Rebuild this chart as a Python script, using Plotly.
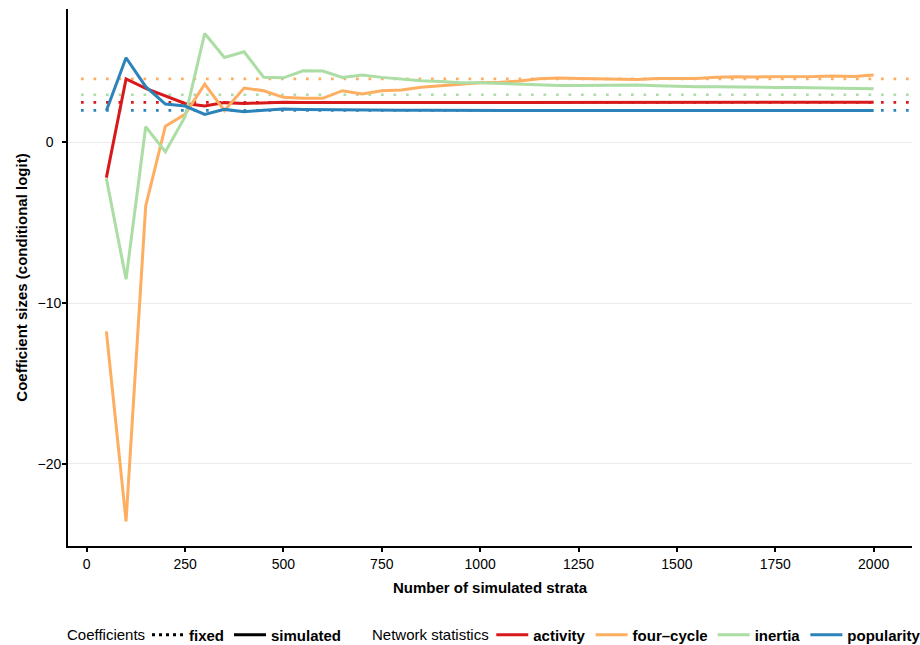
import plotly.graph_objects as go

# ---------------- data ----------------
strata = list(range(50, 2001, 50))

activity = [-2.20, 3.93, 3.35, 2.87, 2.41, 2.25, 2.46, 2.41, 2.45, 2.48,
            2.47, 2.47, 2.46, 2.47, 2.47, 2.47, 2.46, 2.46, 2.47, 2.47,
            2.47, 2.47, 2.47, 2.47, 2.47, 2.48, 2.48, 2.48, 2.48, 2.48,
            2.48, 2.48, 2.48, 2.48, 2.48, 2.48, 2.48, 2.48, 2.48, 2.48]

four_cycle = [-11.76, -23.57, -3.96, 1.00, 1.73, 3.61, 1.96, 3.37, 3.20, 2.79,
              2.73, 2.73, 3.20, 2.99, 3.20, 3.24, 3.41, 3.51, 3.61, 3.70,
              3.72, 3.80, 3.94, 3.99, 3.96, 3.95, 3.90, 3.90, 3.96, 3.98,
              3.96, 4.03, 4.07, 4.06, 4.06, 4.07, 4.08, 4.12, 4.08, 4.18]

inertia = [-2.25, -8.52, 0.96, -0.59, 1.58, 6.76, 5.27, 5.62, 4.03, 4.00,
           4.44, 4.42, 4.03, 4.17, 4.03, 3.93, 3.82, 3.78, 3.70, 3.70,
           3.66, 3.60, 3.55, 3.53, 3.53, 3.55, 3.57, 3.55, 3.51, 3.47,
           3.45, 3.45, 3.42, 3.41, 3.40, 3.40, 3.39, 3.38, 3.37, 3.32]

popularity = [1.96, 5.25, 3.45, 2.37, 2.25, 1.73, 2.04, 1.90, 1.98, 2.06,
              2.04, 2.02, 2.00, 1.99, 1.99, 1.98, 1.98, 1.98, 1.98, 1.98,
              1.98, 1.98, 1.98, 1.98, 1.98, 1.98, 1.98, 1.98, 1.98, 1.98,
              1.98, 1.97, 1.97, 1.97, 1.97, 1.97, 1.97, 1.97, 1.97, 1.97]

stat_names = ["activity", "four\u2013cycle", "inertia", "popularity"]
fixed_coef = [2.48, 3.94, 2.95, 1.98]
coef_types = ["fixed", "simulated"]
legend_titles = ["Coefficients", "Network statistics"]

x_ticks = [0, 250, 500, 750, 1000, 1250, 1500, 1750, 2000]
y_ticks = [-20, -10, 0]
y_tick_labels = ["\u221220", "\u221210", "0\u2007"]

colors = ["#d7191c", "#fdae61", "#abdda4", "#2b83ba"]
FONT = "Liberation Sans, Arial, Helvetica, sans-serif"

fig = go.Figure()

# fixed coefficients: dotted horizontal lines
for val, col in zip(fixed_coef, colors):
    fig.add_hline(y=val, x0=0.0154, x1=1.0,
                  line=dict(color=col, width=2.7, dash="2.7px,9.8px"),
                  layer="below")

# simulated coefficients
series = [activity, four_cycle, inertia, popularity]
for name, vals, col in zip(stat_names, series, colors):
    fig.add_trace(go.Scatter(x=strata, y=vals, mode="lines", name=name,
                             line=dict(color=col, width=3),
                             legend="legend2", hoverinfo="x+y+name"))

# legend-only entries for coefficient type
fig.add_trace(go.Scatter(x=[None], y=[None], mode="lines", name=coef_types[0],
                         line=dict(color="black", width=3, dash="3px,4px"),
                         legend="legend"))
fig.add_trace(go.Scatter(x=[None], y=[None], mode="lines", name=coef_types[1],
                         line=dict(color="black", width=3),
                         legend="legend"))

# legend titles as annotations
LEG_Y = -0.1639
fig.add_annotation(text=legend_titles[0], xref="paper", yref="paper",
                   x=-0.0036, y=LEG_Y, xanchor="left", yanchor="middle",
                   showarrow=False, font=dict(size=15, color="black"))
fig.add_annotation(text=legend_titles[1], xref="paper", yref="paper",
                   x=0.3584, y=LEG_Y, xanchor="left", yanchor="middle",
                   showarrow=False, font=dict(size=15, color="black"))

fig.update_layout(
    width=920, height=645,
    margin=dict(l=68, r=8, t=9, b=99, autoexpand=False),
    plot_bgcolor="white", paper_bgcolor="white",
    font=dict(family=FONT, size=14, color="black"),
    showlegend=True,
    xaxis=dict(range=[-47.5, 2097.5], tickvals=x_ticks, automargin=False,
               showline=True, linecolor="black", linewidth=1.8,
               ticks="outside", ticklen=4, tickwidth=1.5, tickcolor="black",
               showgrid=False, zeroline=False,
               tickfont=dict(size=14, color="black"),
               title=dict(text="<b>Number of simulated strata</b>",
                          font=dict(size=15), standoff=12)),
    yaxis=dict(range=[-25.1, 8.28], tickvals=y_ticks, ticktext=y_tick_labels,
               automargin=False,
               showline=True, linecolor="black", linewidth=1.8,
               ticks="outside", ticklen=4, tickwidth=1.5, tickcolor="black",
               showgrid=True, gridcolor="#ebebeb", gridwidth=1.2,
               zeroline=False, ticklabelstandoff=-2,
               tickfont=dict(size=14, color="black"),
               title=dict(text="<b>Coefficient sizes (conditional logit)</b>",
                          font=dict(size=15), standoff=6)),
    legend=dict(orientation="h", x=0.0936, y=-0.135, xanchor="left", yanchor="top",
                font=dict(size=15, weight="bold"), itemwidth=32,
                bgcolor="rgba(0,0,0,0)"),
    legend2=dict(orientation="h", x=0.5015, y=-0.135, xanchor="left", yanchor="top",
                 font=dict(size=15, weight="bold"), itemwidth=32,
                 bgcolor="rgba(0,0,0,0)"),
)

fig.write_html("out.html", config={"displayModeBar": False})

# remove the browser's default page margin so the figure fills the window
with open("out.html", "r", encoding="utf-8") as f:
    html = f.read()
html = html.replace("<head>", "<head><style>html,body{margin:0;padding:0;overflow:hidden;}</style>", 1)
with open("out.html", "w", encoding="utf-8") as f:
    f.write(html)
